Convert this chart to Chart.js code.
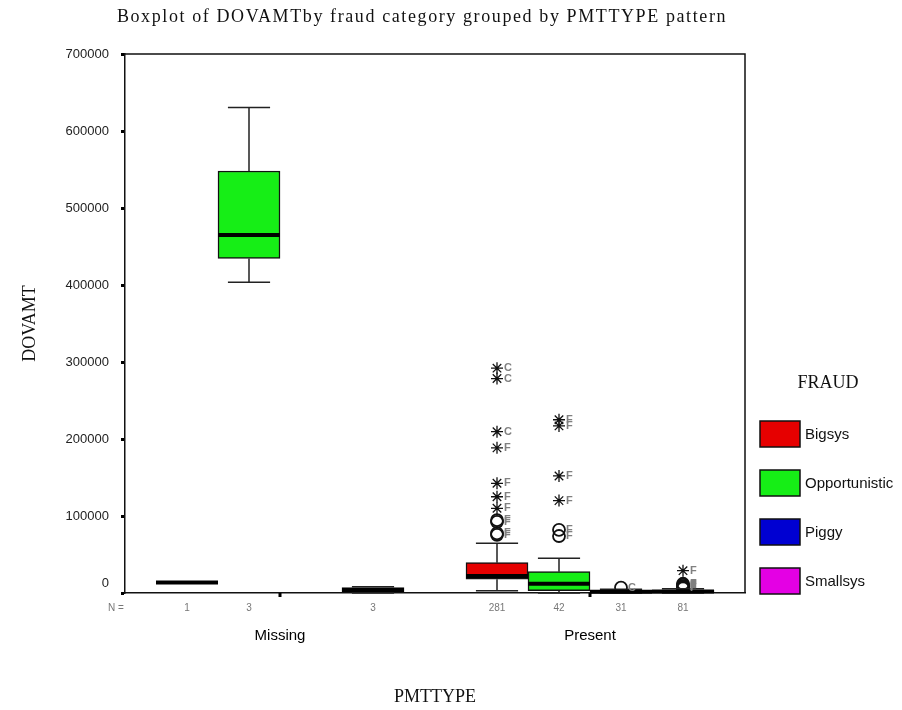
<!DOCTYPE html>
<html>
<head>
<meta charset="utf-8">
<title>DOVAMT boxplot</title>
<script src="https://cdn.jsdelivr.net/npm/chart.js@4.4.0/dist/chart.umd.min.js"></script>
<style>
  html, body { margin: 0; padding: 0; background: #fff; }
  #contenedor { width: 902px; height: 710px; position: relative; }
</style>
</head>
<body>
<div id="contenedor"><canvas id="grafico"></canvas></div>
<script>
const titulo = 'Boxplot of DOVAMTby fraud category grouped by PMTTYPE pattern';
const grupos = ['Missing', 'Present'];
const fraudes = ['Bigsys', 'Opportunistic', 'Piggy', 'Smallsys'];
const colores = ['#e60000', '#16ee16', '#0000d2', '#e400e4'];

// number of cases per fraud category
const nMissing = [1, 3, null, 3];
const nPresent = [281, 42, 31, 81];

// [min, q1, median, q3, max], null when there are no cases
const cajasMissing = [
    [13500, 13500, 13500, 13500, 13500],
    [403500, 434500, 465000, 548000, 630500],
    null,
    [0, 1000, 4000, 7000, 8000]
];
const cajasPresent = [
    [3000, 17800, 22000, 39400, 64500],
    [0, 3000, 12000, 27700, 45000],
    [0, 500, 1500, 3000, 5000],
    [0, 1000, 2000, 3500, 5500]
];

// outliers (circles) and extremes (stars) of the Present group, with case letter
const atipicosPresent = [
    [[75500, 'F'], [77500, 'F'], [92500, 'F'], [94500, 'F']],
    [[74000, 'F'], [82000, 'F']],
    [[7000, 'C']],
    [[6000, 'F'], [7500, 'F'], [9000, 'F'], [10500, 'F'], [12000, 'F']]
];
const extremosPresent = [
    [[110000, 'F'], [125000, 'F'], [142500, 'F'], [188500, 'F'], [209500, 'C'], [278500, 'C'], [292000, 'C']],
    [[120000, 'F'], [152000, 'F'], [217000, 'F'], [225000, 'F']],
    [],
    [[29000, 'F']]
];

// slot on the x axis: 1..4 for Missing, 6..9 for Present
function posicion(g, f) {
    return g * 5 + f + 1;
}

function cajaPunto(g, f, c) {
    return { x: posicion(g, f), y: [c[1], c[3]], min: c[0], mediana: c[2], max: c[4] };
}

const datasets = [];
fraudes.forEach((nombre, f) => {
    const puntos = [];
    if (cajasMissing[f]) puntos.push(cajaPunto(0, f, cajasMissing[f]));
    if (cajasPresent[f]) puntos.push(cajaPunto(1, f, cajasPresent[f]));
    datasets.push({
        type: 'bar',
        label: nombre,
        data: puntos,
        backgroundColor: colores[f],
        borderColor: '#111',
        borderWidth: 1.5,
        borderSkipped: false,
        grouped: false,
        barPercentage: 1,
        categoryPercentage: 1,
        order: 2
    });
});
fraudes.forEach((nombre, f) => {
    datasets.push({
        type: 'scatter',
        label: nombre + ' outliers',
        data: atipicosPresent[f].map(p => ({ x: posicion(1, f), y: p[0], caso: p[1] })),
        pointStyle: 'circle',
        radius: 6,
        borderColor: '#111',
        borderWidth: 1.8,
        backgroundColor: 'rgba(255,255,255,0)',
        order: 1
    });
    datasets.push({
        type: 'scatter',
        label: nombre + ' extremes',
        data: extremosPresent[f].map(p => ({ x: posicion(1, f), y: p[0], caso: p[1] })),
        pointStyle: 'star',
        radius: 6,
        borderColor: '#111',
        borderWidth: 1.3,
        order: 1
    });
});

function etiquetaN(v) {
    const g = v < 5 ? 0 : 1;
    const f = v - 1 - g * 5;
    if (f < 0 || f > 3) return '';
    const n = g === 0 ? nMissing[f] : nPresent[f];
    return n == null ? '' : String(n);
}

const extras = {
    id: 'extras',
    afterDatasetsDraw(chart) {
        const { ctx, chartArea: area, scales: { x, y } } = chart;
        ctx.save();

        // whiskers and medians
        chart.data.datasets.forEach((ds, i) => {
            const meta = chart.getDatasetMeta(i);
            if (meta.type !== 'bar') return;
            meta.data.forEach((barra, j) => {
                const d = ds.data[j];
                const mitad = barra.width / 2;
                const tapa = barra.width * 0.34;
                ctx.strokeStyle = '#222';
                ctx.lineWidth = 1.5;
                [[d.y[1], d.max], [d.y[0], d.min]].forEach(([desde, hasta]) => {
                    if (desde === hasta) return;
                    ctx.beginPath();
                    ctx.moveTo(barra.x, y.getPixelForValue(desde));
                    ctx.lineTo(barra.x, y.getPixelForValue(hasta));
                    ctx.moveTo(barra.x - tapa, y.getPixelForValue(hasta));
                    ctx.lineTo(barra.x + tapa, y.getPixelForValue(hasta));
                    ctx.stroke();
                });
                ctx.strokeStyle = '#000';
                ctx.lineWidth = 4;
                ctx.beginPath();
                ctx.moveTo(barra.x - mitad, y.getPixelForValue(d.mediana));
                ctx.lineTo(barra.x + mitad, y.getPixelForValue(d.mediana));
                ctx.stroke();
            });
        });

        // case letters beside outliers
        ctx.font = 'bold 11px "Liberation Sans", Arial, sans-serif';
        ctx.fillStyle = '#808080';
        ctx.textAlign = 'left';
        ctx.textBaseline = 'middle';
        chart.data.datasets.forEach((ds, i) => {
            const meta = chart.getDatasetMeta(i);
            if (meta.type !== 'scatter') return;
            meta.data.forEach((p, j) => ctx.fillText(ds.data[j].caso, p.x + 7, p.y));
        });

        // top and right frame
        ctx.strokeStyle = '#111';
        ctx.lineWidth = 1.5;
        ctx.beginPath();
        ctx.moveTo(area.left, area.top);
        ctx.lineTo(area.right, area.top);
        ctx.lineTo(area.right, area.bottom);
        ctx.stroke();

        // group ticks and names
        ctx.fillStyle = '#000';
        ctx.font = '15px "Liberation Sans", Arial, sans-serif';
        ctx.textAlign = 'center';
        grupos.forEach((nombre, g) => {
            const cx = x.getPixelForValue(g * 5 + 2.5);
            ctx.fillRect(cx - 1.5, area.bottom, 3, 4);
            ctx.fillText(nombre, cx, 636);
        });

        ctx.fillStyle = '#777';
        ctx.font = '10px "Liberation Sans", Arial, sans-serif';
        ctx.fillText('N =', area.left - 9, 608);

        // zero label sits a little above its tick
        ctx.fillStyle = '#222';
        ctx.font = '13px "Liberation Sans", Arial, sans-serif';
        ctx.textAlign = 'right';
        ctx.fillText('0', area.left - 16, y.getPixelForValue(0) - 10);

        // title
        ctx.fillStyle = '#111';
        ctx.font = '18px "Liberation Serif", "Times New Roman", serif';
        ctx.textAlign = 'center';
        ctx.letterSpacing = '1.6px';
        ctx.fillText(titulo, 422, 17);
        ctx.letterSpacing = '0px';

        // legend
        ctx.fillText('FRAUD', 828, 383);
        ctx.font = '15px "Liberation Sans", Arial, sans-serif';
        ctx.textAlign = 'left';
        fraudes.forEach((nombre, f) => {
            const top = 421 + f * 49;
            ctx.fillStyle = colores[f];
            ctx.fillRect(760, top, 40, 26);
            ctx.strokeStyle = '#111';
            ctx.lineWidth = 1.5;
            ctx.strokeRect(760, top, 40, 26);
            ctx.fillStyle = '#111';
            ctx.fillText(nombre, 805, top + 14);
        });
        ctx.restore();
    }
};

const ctx = document.getElementById('grafico').getContext('2d');
new Chart(ctx, {
    type: 'bar',
    data: { datasets: datasets },
    options: {
        responsive: true,
        maintainAspectRatio: false,
        animation: false,
        layout: { padding: { top: 54, right: 157, left: 0, bottom: 0 } },
        plugins: {
            legend: { display: false },
            title: { display: false },
            tooltip: { enabled: false }
        },
        scales: {
            x: {
                type: 'linear',
                min: 0,
                max: 10,
                offset: false,
                afterFit: s => { s.height = 117; },
                grid: { display: true, drawOnChartArea: false, drawTicks: false, offset: false },
                border: { display: true, color: '#111', width: 1.5 },
                ticks: {
                    stepSize: 1,
                    autoSkip: false,
                    maxRotation: 0,
                    padding: 9,
                    color: '#777',
                    font: { family: '"Liberation Sans", Arial, sans-serif', size: 10 },
                    callback: v => etiquetaN(v)
                },
                title: {
                    display: true,
                    text: 'PMTTYPE',
                    color: '#111',
                    font: { family: '"Liberation Serif", "Times New Roman", serif', size: 18 },
                    padding: { top: 0, bottom: 2 }
                }
            },
            y: {
                min: 0,
                max: 700000,
                afterFit: s => { s.width = 125; },
                grid: { drawOnChartArea: false, drawTicks: true, tickLength: 4, tickWidth: 3, tickColor: '#000' },
                border: { display: true, color: '#111', width: 1.5 },
                ticks: {
                    stepSize: 100000,
                    padding: 12,
                    color: '#222',
                    font: { family: '"Liberation Sans", Arial, sans-serif', size: 13 },
                    callback: v => (v === 0 ? '' : String(v))
                },
                title: {
                    display: true,
                    text: 'DOVAMT',
                    color: '#111',
                    font: { family: '"Liberation Serif", "Times New Roman", serif', size: 18 },
                    padding: { top: 19, bottom: 0 }
                }
            }
        }
    },
    plugins: [extras]
});
</script>
</body>
</html>
